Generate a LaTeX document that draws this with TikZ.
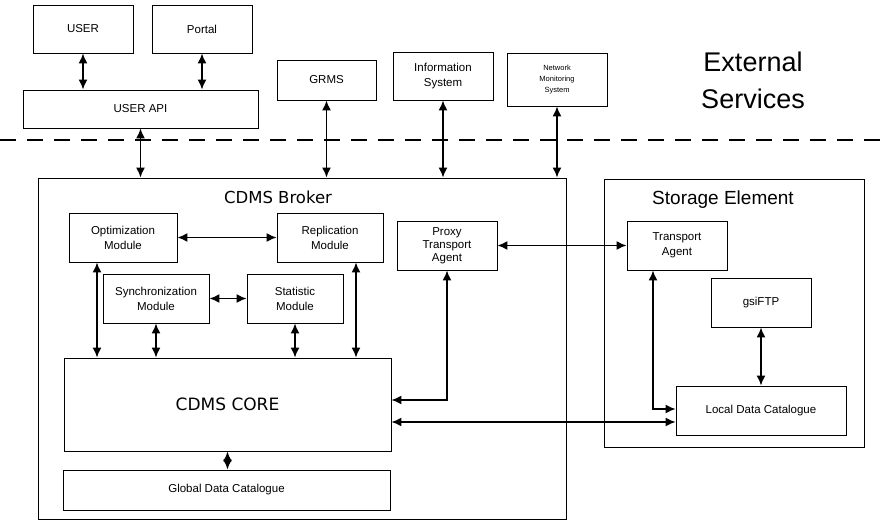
\documentclass[tikz,border=0pt]{standalone}
\usepackage{fontspec}
\setmainfont{Liberation Sans}
\newfontfamily\dejavu{DejaVu Sans}
\usetikzlibrary{arrows.meta}
\begin{document}
\begin{tikzpicture}[x=1pt,y=-1pt,
  box/.style={draw,line width=0.9pt,align=center,inner sep=1pt,font=\fontsize{11.5}{15}\selectfont},
  frame/.style={draw,line width=0.9pt,inner sep=0pt},
  arr/.style={{Latex[length=10pt,width=9pt]}-{Latex[length=10pt,width=9pt]},line width=1.5pt},
  sep/.style={line width=2.5pt,dash pattern=on 16pt off 11pt},
]
\useasboundingbox (0,0) rectangle (880,521);
% external part
\node[box,minimum width=100pt,minimum height=48pt] (user) at (83,29) {USER};
\node[box,minimum width=100pt,minimum height=48pt] (portal) at (202,29) {Portal};
\node[box,minimum width=235pt,minimum height=38pt] (api) at (140.5,109) {USER API};
\node[box,minimum width=99pt,minimum height=40pt] (grms) at (326.5,80) {GRMS};
\node[box,minimum width=100pt,minimum height=48pt] (info) at (443,76) {Information\\System};
\node[box,minimum width=100pt,minimum height=53pt,font=\fontsize{7.5}{11}\selectfont] (nms) at (557,79.5) {Network\\Monitoring\\System};
\node[align=center,font=\fontsize{27}{37}\selectfont] (ext) at (753,80) {External\\Services};
\coordinate (dl) at (0,140);
\coordinate (dr) at (880,140);
\draw[sep] (dl) -- (dr);
% broker
\node[frame,minimum width=528pt,minimum height=341pt] (broker) at (302,348.5) {};
\node[font=\dejavu\fontsize{16.5}{20}\selectfont] (brokerlbl) at (278,197) {CDMS Broker};
\node[box,minimum width=108pt,minimum height=49pt] (opt) at (123,237.5) {Optimization\\Module};
\node[box,minimum width=106pt,minimum height=49pt] (rep) at (330,237.5) {Replication\\Module};
\node[box,minimum width=106pt,minimum height=49pt] (sync) at (156,298.5) {Synchronization\\Module};
\node[box,minimum width=96pt,minimum height=49pt] (stat) at (295,298.5) {Statistic\\Module};
\node[box,minimum width=100pt,minimum height=49pt,font=\fontsize{11.5}{13}\selectfont] (proxy) at (447,245.5) {Proxy\\Transport\\Agent};
\node[box,minimum width=327pt,minimum height=93pt,font=\dejavu\fontsize{17}{20}\selectfont] (core) at (227.5,404.5) {CDMS CORE};
\node[box,minimum width=327pt,minimum height=40pt] (gdc) at (226.5,490) {Global Data Catalogue};
% storage element
\node[frame,minimum width=260pt,minimum height=268pt] (se) at (734,313) {};
\node[font=\fontsize{19}{22}\selectfont] (selbl) at (723,200) {Storage Element};
\node[box,minimum width=100pt,minimum height=49pt] (ta) at (677,245.5) {Transport\\Agent};
\node[box,minimum width=100pt,minimum height=49pt] (ftp) at (761,302.5) {gsiFTP};
\node[box,minimum width=170pt,minimum height=49pt] (ldc) at (761,410.5) {Local Data Catalogue};
% connectors
\draw[arr] (user.south) -- (user.south |- api.north);
\draw[arr] (portal.south) -- (portal.south |- api.north);
\draw[arr] (api.south) -- (api.south |- broker.north);
\draw[arr] (grms.south) -- (grms.south |- broker.north);
\draw[arr] (info.south) -- (info.south |- broker.north);
\draw[arr] (nms.south) -- (nms.south |- broker.north);
\draw[arr] (opt.east) -- (rep.west);
\draw[arr] (sync.east) -- (stat.west);
\draw[arr] ([xshift=-26pt]opt.south) coordinate (o1) -- (o1 |- core.north);
\draw[arr] (sync.south) -- (sync.south |- core.north);
\draw[arr] (stat.south) -- (stat.south |- core.north);
\draw[arr] ([xshift=26pt]rep.south) coordinate (r1) -- (r1 |- core.north);
\draw[arr] (proxy.south) |- ([yshift=4.5pt]core.east);
\draw[arr] (core.south) -- (core.south |- gdc.north);
\draw[arr] (proxy.east) -- (ta.west);
\draw[arr] ([yshift=-17.5pt]core.east) coordinate (c1) -- (c1 -| ldc.west);
\draw[arr] ([xshift=-24pt]ta.south) |- ([yshift=1.5pt]ldc.west);
\draw[arr] (ftp.south) -- (ldc.north);
\end{tikzpicture}
\end{document}
